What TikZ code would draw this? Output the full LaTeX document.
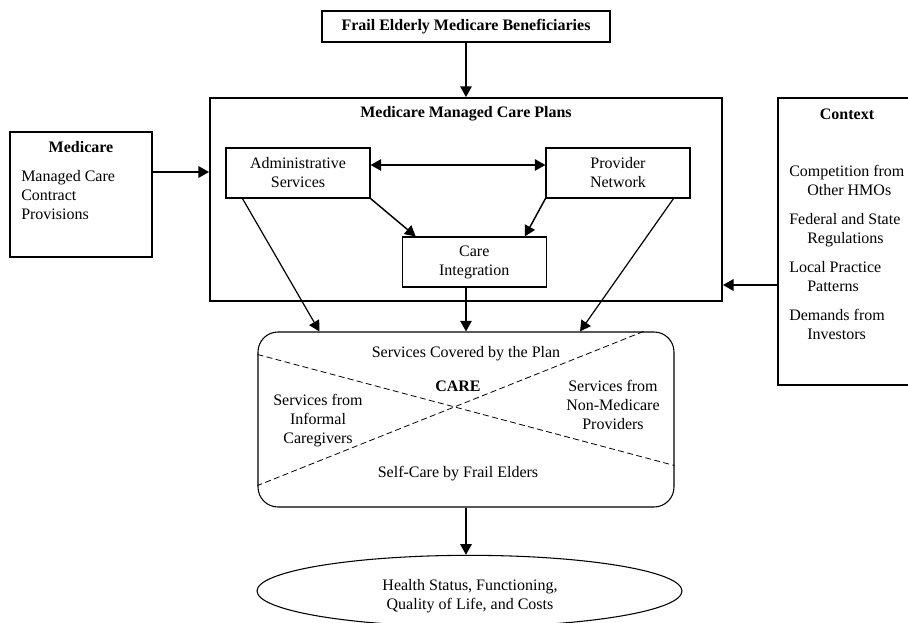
\documentclass[tikz,border=0pt]{standalone}
\usepackage{fontspec}
\setmainfont{Liberation Serif}
\usetikzlibrary{arrows.meta,calc,shapes.geometric}
\begin{document}
\begin{tikzpicture}[x=0.75pt,y=-0.75pt,
  every node/.style={font=\fontsize{12}{14.25}\selectfont},
  box/.style={draw,line width=0.8pt,inner sep=0pt,align=center},
  arr/.style={-{Triangle[length=8pt,width=8.5pt]}},
  dblarr/.style={{Triangle[length=8pt,width=8.5pt]}-{Triangle[length=8pt,width=8.5pt]}},
  thinline/.style={line width=0.9pt},
  boldline/.style={line width=1.5pt},
  cutline/.style={line width=0.6pt,dash pattern=on 4.5pt off 2.5pt}]
\useasboundingbox (0,0) rectangle (908,623);
\clip (0,0) rectangle (908,623);
% coordinates for horizontal arrow levels
\coordinate (ymed) at (0,172);
\coordinate (ydbl) at (0,165);
\coordinate (yctx) at (0,285);
% top box
\node[box,minimum width=216pt,minimum height=23.25pt] (frail) at (466,26.5) {\textbf{Frail Elderly Medicare Beneficiaries}};
% main box
\node[draw,line width=1.3pt,inner sep=0pt,minimum width=384pt,minimum height=152.25pt] (plans) at (466,199.5) {};
\node (planstitle) at (466,114) {\textbf{Medicare Managed Care Plans}};
\node[box,minimum width=108pt,minimum height=37.5pt] (admin) at (298,173) {Administrative\\Services};
\node[box,minimum width=108pt,minimum height=37.5pt] (provider) at (618,173) {Provider\\Network};
\node[box,minimum width=108pt,minimum height=37.5pt] (careint) at (474.25,262) {Care\\Integration};
% Medicare box
\node[box,minimum width=106.5pt,minimum height=93.75pt] (medicare) at (81,194.5) {};
\node (medtitle) at (81,147) {\textbf{Medicare}};
\node[align=left,anchor=west,inner sep=0pt] (medtext) at (21,195) {Managed Care\\Contract\\Provisions};
% Context box
\node[box,minimum width=100.5pt,minimum height=215.25pt] (context) at (845,241.5) {};
\node (ctxtitle) at (847,114) {\textbf{Context}};
\node[align=left,anchor=west,inner sep=0pt] (ctxtext) at (789,252) {Competition from\\\hspace*{13.5pt}Other HMOs\\[7.5pt]Federal and State\\\hspace*{13.5pt}Regulations\\[7.5pt]Local Practice\\\hspace*{13.5pt}Patterns\\[7.5pt]Demands from\\\hspace*{13.5pt}Investors};
% CARE region
\node[draw,line width=0.8pt,rounded corners=15pt,inner sep=0pt,minimum width=312pt,minimum height=131.25pt] (care) at (466,419.5) {};
\draw[cutline] ($(care.north west)+(0,23)$) -- ($(care.south east)+(0,-42)$);
\draw[cutline] ($(care.north east)+(-31,0)$) -- ($(care.south west)+(0,-22)$);
\node (covered) at (466,354) {Services Covered by the Plan};
\node (caretitle) at (458,386) {\textbf{CARE}};
\node[align=center] (informal) at (318,421) {Services from\\Informal\\Caregivers};
\node[align=center] (nonmed) at (613,405) {Services from\\Non-Medicare\\Providers};
\node (selfcare) at (458,474) {Self-Care by Frail Elders};
% outcome
\node[draw,ellipse,line width=0.8pt,inner sep=0pt,minimum width=318.75pt,minimum height=53.5pt] (outcome) at (469.5,591) {};
\node[align=center] (outtext) at (470,596) {Health Status, Functioning,\\Quality of Life, and Costs};
% connectors
\draw[line width=1.1pt,arr] (frail.south) -- (plans.north);
\draw[boldline,arr] (medicare.east |- ymed) -- (plans.west |- ymed);
\draw[boldline,arr] (context.west |- yctx) -- (plans.east |- yctx);
\draw[boldline,dblarr] (admin.east |- ydbl) -- (provider.west |- ydbl);
\draw[line width=1.1pt,arr] (admin.south east) -- ($(careint.north west)+(14,0)$);
\draw[line width=1.1pt,arr] (provider.south west) -- ($(careint.north east)+(-22,0)$);
\draw[thinline,arr] ($(admin.south west)+(17,0)$) -- ($(care.north west)+(62,0)$);
\draw[thinline,arr] ($(provider.south east)+(-17,0)$) -- ($(care.north)+(114,0)$);
\draw[line width=1.3pt,arr] (careint.south -| care.north) -- (care.north);
\draw[boldline,arr] (care.south) -- (care.south |- outcome.north);
\end{tikzpicture}
\end{document}
